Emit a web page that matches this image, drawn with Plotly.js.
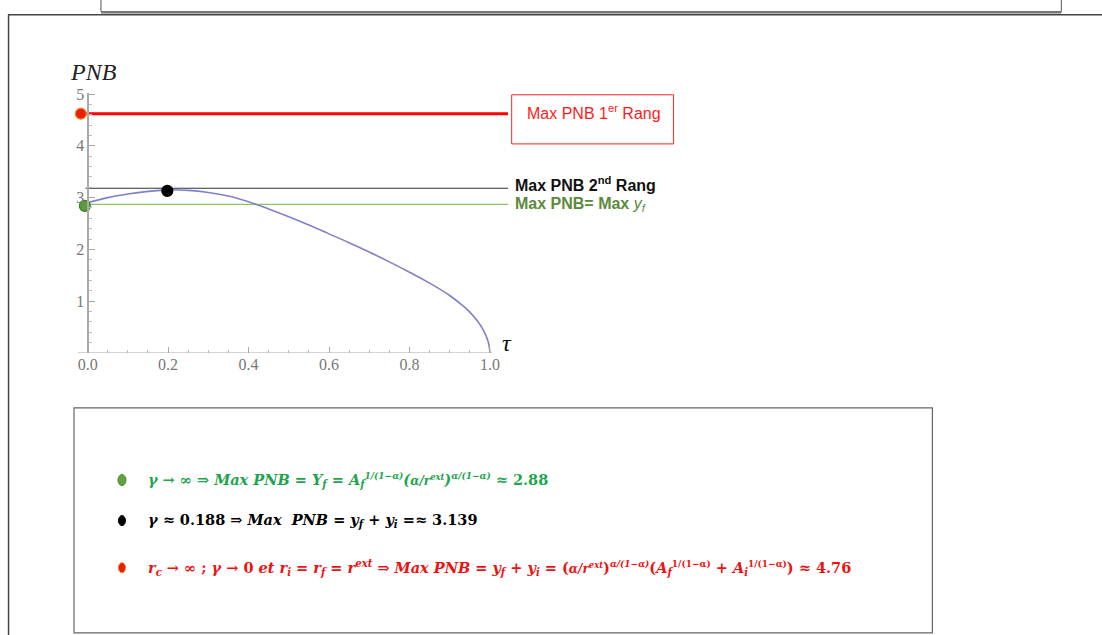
<!DOCTYPE html>
<html>
<head>
<meta charset="utf-8">
<script src="https://cdn.plot.ly/plotly-3.0.1.min.js"></script>
<style>
html,body{margin:0;padding:0;background:#fff;}
#chart{width:1102px;height:635px;}
</style>
</head>
<body>
<div id="chart"></div>
<script>
// ---- data ----
const tau = [0, 0.05, 0.1, 0.15, 0.2, 0.25, 0.3, 0.35, 0.4, 0.45, 0.5, 0.55, 0.6, 0.65, 0.7, 0.75, 0.8, 0.85, 0.9, 0.93, 0.95, 0.97, 0.98, 0.99, 0.997, 1.0];
const pnb = [2.90, 3.00, 3.07, 3.12, 3.15, 3.14, 3.10, 3.03, 2.92, 2.78, 2.63, 2.47, 2.30, 2.13, 1.95, 1.76, 1.56, 1.35, 1.11, 0.93, 0.79, 0.61, 0.49, 0.34, 0.18, 0.0];

const refNames = ['Max PNB 1er Rang', 'Max PNB 2nd Rang', 'Max PNB= Max yf'];
const refValues = [4.62, 3.18, 2.87];

const pointNames = ['rc → ∞', 'γ ≈ 0.188', 'γ → ∞'];
const pointTau = [-0.017, 0.198, -0.007];
const pointPNB = [4.62, 3.13, 2.84];

const xTicks = [0, 0.2, 0.4, 0.6, 0.8, 1.0];
const xTickText = ['0.0', '0.2', '0.4', '0.6', '0.8', '1.0'];
const yTicks = [1, 2, 3, 4, 5];
const yTickText = ['1', '2', '3', '4', '5'];

// ---- layout geometry ----
const W = 1102, H = 635;
const M = {l: 78, r: 593.7, t: 93.2, b: 282.3};
const plotW = W - M.l - M.r, plotH = H - M.t - M.b;
const px = x => (x - M.l) / plotW;
const py = y => (H - M.b - y) / plotH;
const X_MIN = -0.024, X_MAX = 1.045, AXIS_END = 1.005;

const refColors = ['#ff0000', '#333333', '#8cc46a'];
const refWidths = [3, 1.1, 1.3];
const ptFill = ['#e8200a', '#000000', '#5d9c3c'];
const ptLine = ['#ff8a1e', '#000000', '#3f7d2c'];

const traces = [];
refValues.forEach((v, i) => {
  traces.push({
    x: [i === 2 ? 0 : -0.005, X_MAX], y: [v, v], mode: 'lines', name: refNames[i],
    line: {color: refColors[i], width: refWidths[i]}, hoverinfo: 'skip', showlegend: false
  });
});
traces.push({
  x: tau, y: pnb, mode: 'lines', name: 'PNB(τ)',
  line: {color: '#8080cc', width: 1.6, shape: 'spline', smoothing: 1.2}, showlegend: false
});
traces.push({
  x: pointTau, y: pointPNB, mode: 'markers', text: pointNames,
  marker: {size: 11, color: ptFill, line: {color: ptLine, width: 1.2}},
  cliponaxis: false, showlegend: false
});

const serif = 'Liberation Serif, DejaVu Serif, serif';
const mathSerif = 'DejaVu Serif, Liberation Serif, serif';
const sans = 'Liberation Sans, Arial, sans-serif';

const shapes = [
  // document frames
  {type: 'rect', xref: 'paper', yref: 'paper', x0: px(101), x1: px(1062), y0: py(-5), y1: py(12), line: {color: '#555', width: 1}},
  {type: 'line', xref: 'paper', yref: 'paper', x0: px(101), x1: px(1062), y0: py(12.5), y1: py(12.5), line: {color: '#777', width: 2.5}},
  {type: 'line', xref: 'paper', yref: 'paper', x0: px(8), x1: px(1110), y0: py(15), y1: py(15), line: {color: '#444', width: 1.5}},
  {type: 'line', xref: 'paper', yref: 'paper', x0: px(8.5), x1: px(8.5), y0: py(15), y1: py(640), line: {color: '#444', width: 1.5}},
  {type: 'rect', xref: 'paper', yref: 'paper', x0: px(74), x1: px(933), y0: py(407.5), y1: py(632), line: {color: '#666', width: 1.2}},
  // red label box
  {type: 'rect', xref: 'paper', yref: 'paper', x0: px(512), x1: px(674), y0: py(95), y1: py(144), line: {color: '#ff2020', width: 1}},
  // x axis line
  {type: 'line', xref: 'x', yref: 'y', x0: X_MIN, x1: AXIS_END, y0: 0, y1: 0, line: {color: '#aaaaaa', width: 1.2}},
  // bullets
  {type: 'circle', xref: 'paper', yref: 'paper', x0: px(118), x1: px(126), y0: py(474), y1: py(485), fillcolor: '#62a33e', line: {color: '#4c8a30', width: 1}},
  {type: 'circle', xref: 'paper', yref: 'paper', x0: px(118.5), x1: px(125.5), y0: py(515), y1: py(525), fillcolor: '#000', line: {color: '#000', width: 1}},
  {type: 'circle', xref: 'paper', yref: 'paper', x0: px(118.5), x1: px(125.5), y0: py(562), y1: py(572), fillcolor: '#e81e00', line: {color: '#ff7a1a', width: 1}}
];

const ann = (x, y, text, font, xanchor) => ({
  xref: 'paper', yref: 'paper', x: px(x), y: py(y), text: text, showarrow: false,
  xanchor: xanchor || 'left', yanchor: 'middle', font: font, align: 'left'
});

const sm = s => '<span style="font-size:9px">' + s + '</span>';
const md = s => '<span style="font-size:12px">' + s + '</span>';
const green = '#1ea44c';
const red = '#ee1111';
const annotations = [
  ann(68, 72, '<i>PNB</i>', {family: serif, size: 24, color: '#222'}),
  ann(500, 343, '<i>τ</i>', {family: serif, size: 24, color: '#111'}),
  ann(594, 112, 'Max PNB 1<sup>er</sup> Rang', {family: sans, size: 16, color: '#ff1a1a'}, 'center'),
  ann(513, 184, '<b>Max PNB 2<sup>nd</sup> Rang</b>', {family: sans, size: 16, color: '#111'}),
  ann(513, 204, '<b>Max PNB= Max </b><i>y<sub>f</sub></i>', {family: sans, size: 16, color: '#5b8a3a'}),
  ann(146, 480,
    '<b><i>γ → ∞ ⇒ Max PNB = Y<sub>f</sub> = A<sub>f</sub><sup>' + sm('1/(1−α)') + '</sup>(' + md('α/r<sup>ext</sup>') + ')<sup>' + sm('α/(1−α)') + '</sup></i> ≈ 2.88</b>',
    {family: mathSerif, size: 14.5, color: green}),
  ann(146, 520,
    '<b><i>γ</i> ≈ 0.188 ⇒ <i>Max  PNB</i> = <i>y<sub>f</sub></i> + <i>y<sub>i</sub></i> =≈ 3.139</b>',
    {family: mathSerif, size: 14.5, color: '#000'}),
  ann(146, 567,
    '<b><i>r<sub>c</sub></i> → ∞ ; <i>γ</i> → 0 <i>et r<sub>i</sub></i> = <i>r<sub>f</sub></i> = <i>r<sup>ext</sup></i> ⇒ <i>Max PNB</i> = <i>y<sub>f</sub></i> + <i>y<sub>i</sub></i> = (' + md('<i>α/r<sup>ext</sup></i>') + ')<sup>' + sm('<i>α/(1−α)</i>') + '</sup>(<i>A<sub>f</sub></i><sup>' + sm('1/(1−α)') + '</sup> + <i>A<sub>i</sub></i><sup>' + sm('1/(1−α)') + '</sup>) ≈ 4.76</b>',
    {family: mathSerif, size: 14.5, color: red})
];

const layout = {
  width: W, height: H,
  margin: {l: M.l, r: M.r, t: M.t, b: M.b, pad: 0},
  paper_bgcolor: '#ffffff', plot_bgcolor: 'rgba(0,0,0,0)',
  showlegend: false,
  xaxis: {
    range: [X_MIN, X_MAX], showgrid: false, zeroline: false, showline: false,
    tickmode: 'array', tickvals: xTicks, ticktext: xTickText,
    ticks: 'inside', ticklen: 6, tickcolor: '#aaaaaa', tickwidth: 1,
    minor: {tickmode: 'linear', tick0: 0, dtick: 0.05, ticks: 'inside', ticklen: 3, tickcolor: '#bbbbbb'},
    tickfont: {family: serif, size: 16, color: '#777777'}
  },
  yaxis: {
    range: [0, 5.02], anchor: 'free', position: px(87.5), showgrid: false, zeroline: false,
    showline: true, linecolor: '#aaaaaa', linewidth: 1.2,
    tickmode: 'array', tickvals: yTicks, ticktext: yTickText,
    ticks: 'inside', ticklen: 6, tickcolor: '#aaaaaa',
    minor: {tickmode: 'linear', tick0: 0, dtick: 0.2, ticks: 'inside', ticklen: 3, tickcolor: '#bbbbbb'},
    tickfont: {family: serif, size: 16, color: '#777777'}
  },
  shapes: shapes,
  annotations: annotations
};

Plotly.newPlot('chart', traces, layout, {displayModeBar: false, staticPlot: true});
</script>
</body>
</html>
